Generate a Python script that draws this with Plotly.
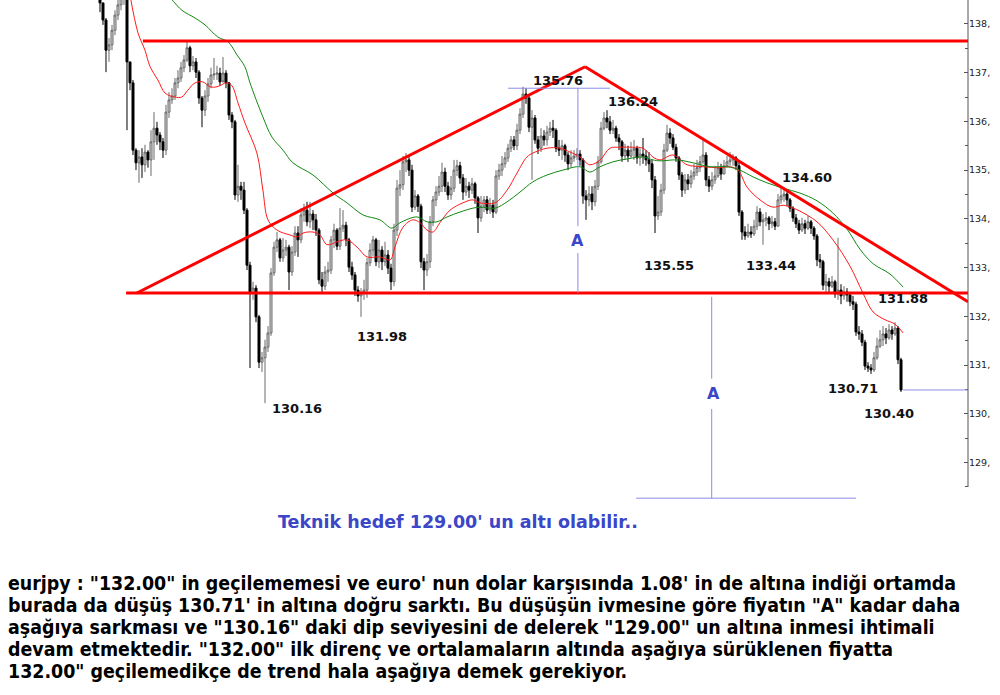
import plotly.graph_objects as go

# ---------------- data (EUR/JPY candles) ----------------
first_open = 138.80
closes = [
    138.43, 138.08, 137.46, 137.57, 137.87, 138.18, 138.39, 138.59, 138.69, 137.22,
    136.79, 135.41, 135.15, 135.27, 135.11, 135.37, 135.21, 135.58, 135.86, 135.72,
    135.58, 135.41, 136.19, 136.44, 136.52, 136.79, 136.89, 137.10, 137.26, 137.51,
    137.14, 137.22, 137.01, 136.48, 136.23, 136.52, 136.77, 136.95, 136.97, 136.99,
    136.81, 136.99, 136.79, 136.13, 135.99, 134.49, 134.67, 134.59, 134.18, 133.05,
    132.48, 132.58, 131.99, 131.06, 131.15, 131.37, 131.66, 132.89, 133.42, 133.57,
    133.20, 133.36, 133.42, 132.91, 133.32, 133.71, 133.57, 134.08, 134.18, 133.94,
    134.10, 133.98, 133.77, 132.75, 132.62, 132.91, 132.95, 133.57, 133.77, 133.44,
    133.81, 133.87, 133.57, 133.01, 132.85, 132.54, 132.42, 132.48, 132.54, 133.10,
    133.36, 133.57, 133.12, 133.36, 133.12, 133.26, 132.99, 132.71, 133.77, 134.63,
    134.70, 135.17, 135.21, 135.00, 134.24, 134.47, 134.26, 133.12, 132.95, 133.12,
    133.94, 134.39, 134.55, 134.67, 134.96, 134.67, 134.49, 134.63, 135.00, 135.09,
    134.84, 134.55, 134.67, 134.59, 134.72, 134.43, 134.02, 134.26, 134.39, 134.18,
    134.28, 134.14, 134.88, 135.00, 135.13, 135.25, 135.45, 135.62, 135.50, 135.82,
    136.15, 136.56, 136.48, 135.88, 136.07, 135.62, 135.45, 135.70, 135.62, 135.78,
    135.86, 135.82, 135.45, 135.41, 135.50, 135.31, 135.13, 135.25, 135.29, 135.33,
    135.21, 134.47, 134.39, 134.51, 134.35, 134.67, 135.17, 135.86, 136.07, 135.99,
    135.82, 135.86, 135.66, 135.58, 135.29, 135.41, 135.29, 135.41, 135.45, 135.25,
    135.33, 135.29, 135.21, 135.13, 134.80, 134.06, 134.14, 134.59, 135.41, 135.76,
    135.66, 135.47, 135.25, 134.90, 134.59, 134.80, 134.72, 134.88, 134.96, 135.05,
    135.17, 135.31, 134.80, 134.67, 134.80, 134.88, 135.05, 134.92, 135.09, 135.17,
    135.21, 135.25, 135.09, 134.14, 133.73, 133.65, 133.73, 133.69, 133.85, 134.14,
    133.94, 133.98, 134.02, 133.90, 133.94, 133.85, 134.39, 134.47, 134.51, 134.39,
    134.22, 134.02, 133.90, 133.77, 133.90, 133.81, 133.94, 133.81, 133.65, 133.16,
    133.12, 132.64, 132.71, 132.62, 132.71, 132.46, 132.54, 132.42, 132.50, 132.44,
    132.30, 132.25, 131.68, 131.64, 131.47, 130.98, 130.94, 130.90, 131.15, 131.39,
    131.52, 131.64, 131.56, 131.72, 131.64, 131.76, 131.11, 130.49,
]
highs = [
    138.69, 138.43, 138.12, 137.71, 137.98, 138.28, 138.59, 138.90, 139.00, 138.80,
    137.22, 136.85, 135.45, 135.41, 135.45, 135.52, 135.41, 135.82, 136.19, 135.99,
    135.78, 135.66, 136.34, 136.60, 136.68, 136.89, 137.05, 137.22, 137.36, 137.67,
    137.55, 137.34, 137.30, 137.05, 136.52, 136.64, 136.89, 137.10, 137.30, 137.14,
    137.10, 137.32, 137.05, 136.81, 136.19, 136.03, 135.11, 134.76, 134.76, 134.22,
    133.12, 132.71, 132.64, 132.03, 131.27, 131.52, 131.80, 132.99, 133.53, 133.73,
    133.61, 133.61, 133.57, 133.47, 133.44, 133.85, 133.85, 134.22, 134.31, 134.35,
    134.35, 134.18, 134.10, 133.81, 132.91, 133.03, 133.12, 133.65, 133.90, 133.81,
    134.22, 134.18, 133.94, 133.61, 133.12, 132.91, 132.62, 132.58, 132.75, 133.20,
    133.50, 133.65, 133.61, 133.57, 133.44, 133.53, 133.36, 133.08, 133.90, 134.80,
    135.00, 135.29, 135.35, 135.29, 135.11, 134.59, 134.51, 134.31, 133.20, 133.28,
    134.06, 134.47, 134.67, 134.88, 135.15, 135.05, 134.76, 134.88, 135.21, 135.21,
    135.17, 134.92, 134.84, 134.76, 134.84, 134.76, 134.47, 134.47, 134.47, 134.47,
    134.43, 134.39, 135.00, 135.13, 135.29, 135.37, 135.54, 135.70, 135.70, 135.95,
    136.27, 136.71, 136.68, 136.52, 136.23, 136.13, 135.70, 135.86, 135.82, 135.91,
    135.99, 136.03, 135.86, 135.62, 135.62, 135.54, 135.37, 135.41, 135.41, 135.45,
    135.41, 135.25, 134.59, 134.67, 134.67, 134.80, 135.29, 135.99, 136.19, 136.23,
    136.11, 136.03, 135.91, 135.74, 135.62, 135.54, 135.50, 135.58, 135.62, 135.50,
    135.45, 135.66, 135.41, 135.37, 135.21, 134.88, 134.47, 134.72, 135.54, 135.93,
    135.86, 135.74, 135.54, 135.29, 134.96, 134.92, 134.92, 135.00, 135.13, 135.21,
    135.29, 135.66, 135.37, 134.88, 134.96, 135.09, 135.17, 135.13, 135.21, 135.29,
    135.37, 135.33, 135.29, 135.17, 134.18, 133.85, 133.90, 133.85, 133.98, 134.26,
    134.22, 134.10, 134.14, 134.06, 134.06, 134.02, 134.51, 134.63, 134.65, 134.59,
    134.43, 134.26, 134.10, 133.98, 134.02, 133.98, 134.06, 133.98, 133.85, 133.69,
    133.28, 133.16, 132.87, 132.79, 132.83, 132.75, 133.61, 132.66, 132.62, 132.58,
    132.50, 132.42, 132.30, 131.80, 131.72, 131.52, 131.06, 131.02, 131.27, 131.56,
    131.72, 131.80, 131.76, 131.84, 131.80, 131.88, 131.80, 131.15,
]
lows = [
    138.24, 137.98, 137.01, 137.22, 137.46, 137.77, 138.08, 138.28, 138.39, 135.82,
    136.64, 135.31, 135.00, 134.74, 134.84, 134.96, 135.05, 134.88, 135.21, 135.52,
    135.41, 135.25, 135.31, 136.07, 136.36, 136.44, 136.68, 136.81, 137.01, 137.22,
    137.01, 137.05, 136.89, 136.36, 135.88, 136.11, 136.40, 136.68, 136.85, 136.85,
    136.73, 136.85, 136.68, 136.03, 135.86, 134.39, 134.35, 134.39, 134.10, 132.95,
    130.94, 132.34, 131.88, 130.94, 130.86, 130.22, 131.27, 131.60, 132.83, 133.32,
    133.12, 133.12, 133.24, 132.54, 132.83, 133.24, 133.22, 133.50, 133.94, 133.85,
    133.81, 133.77, 133.65, 132.66, 132.50, 132.54, 132.71, 132.87, 133.40, 133.36,
    133.36, 133.73, 133.44, 132.91, 132.75, 132.42, 132.30, 131.99, 132.34, 132.38,
    133.03, 133.24, 133.03, 132.99, 132.95, 133.03, 132.87, 132.54, 132.62, 133.65,
    134.47, 134.59, 134.96, 134.88, 134.14, 134.18, 134.14, 132.99, 132.54, 132.83,
    132.99, 133.85, 134.26, 134.47, 134.55, 134.55, 134.39, 134.39, 134.55, 134.88,
    134.72, 134.39, 134.47, 134.43, 134.51, 134.31, 133.71, 133.94, 134.14, 134.10,
    134.10, 134.02, 134.10, 134.80, 134.88, 135.05, 135.17, 135.37, 135.41, 135.41,
    135.74, 136.07, 136.36, 135.78, 134.80, 135.54, 135.33, 135.37, 135.50, 135.50,
    135.70, 135.66, 135.37, 135.29, 135.21, 135.17, 135.00, 135.05, 135.17, 135.21,
    135.09, 134.31, 133.98, 134.26, 134.18, 134.26, 134.59, 135.13, 135.82, 135.86,
    135.74, 135.74, 135.58, 135.41, 135.17, 135.21, 135.17, 135.25, 135.21, 135.13,
    135.09, 135.13, 135.09, 134.96, 134.63, 133.71, 133.98, 134.06, 134.51, 135.37,
    135.54, 135.41, 135.17, 134.80, 134.45, 134.51, 134.59, 134.63, 134.80, 134.88,
    134.96, 135.13, 134.67, 134.55, 134.59, 134.72, 134.84, 134.80, 134.92, 135.05,
    135.09, 135.09, 135.00, 134.06, 133.57, 133.57, 133.61, 133.61, 133.65, 133.77,
    133.85, 133.47, 133.85, 133.77, 133.81, 133.77, 133.85, 134.31, 134.35, 134.26,
    134.14, 133.94, 133.81, 133.69, 133.73, 133.69, 133.77, 133.69, 133.57, 133.03,
    132.99, 132.54, 132.50, 132.46, 132.58, 132.38, 132.34, 132.25, 132.34, 132.30,
    132.21, 132.13, 131.60, 131.52, 131.39, 130.90, 130.86, 130.82, 130.86, 131.11,
    131.35, 131.39, 131.43, 131.52, 131.52, 131.60, 131.02, 130.45,
]
opens = [first_open] + closes[:-1]
bar_index = list(range(len(closes)))

# moving averages (red = fast, green = slow), read at sample bars
ma_fast_x = [10.0, 12.7, 15.0, 16.7, 19.3, 21.7, 25.0, 27.3, 29.3, 31.7, 34.3, 36.7, 39.0,
             42.3, 44.0, 46.0, 48.3, 52.3, 54.3, 56.0, 59.0, 63.3, 65.7, 67.7, 71.0, 73.3,
             75.7, 79.0, 82.3, 85.7, 89.0, 93.3, 96.7, 98.3, 101.0, 104.3, 106.7, 109.0,
             111.0, 113.3, 116.7, 121.0, 124.3, 126.7, 131.7, 135.7, 139.0, 142.3, 144.3,
             149.0, 153.3, 156.7, 160.0, 163.3, 166.7, 170.0, 173.3, 177.7, 181.0, 184.3,
             186.7, 191.0, 195.7, 201.0, 206.7, 210.0, 212.7, 215.7, 220.0, 224.3, 227.7,
             231.0, 233.3, 239.0, 244.3, 250.0, 254.3, 257.7, 261.7, 265.0, 267.7]
ma_fast_y = [138.59, 137.81, 137.46, 137.12, 136.85, 136.58, 136.50, 136.50, 136.64, 136.79,
             136.81, 136.71, 136.71, 136.79, 136.73, 136.38, 135.97, 135.35, 134.59, 133.98,
             133.77, 133.67, 133.63, 133.71, 133.73, 133.67, 133.47, 133.53, 133.57, 133.42,
             133.22, 133.22, 133.16, 133.42, 133.83, 133.98, 133.92, 133.77, 133.73, 133.92,
             134.18, 134.33, 134.39, 134.33, 134.33, 134.59, 134.94, 135.27, 135.35, 135.45,
             135.45, 135.37, 135.27, 135.11, 135.21, 135.45, 135.47, 135.47, 135.45, 135.27,
             135.21, 135.31, 135.11, 135.07, 135.05, 135.07, 135.00, 134.65, 134.39, 134.24,
             134.28, 134.22, 134.16, 133.94, 133.57, 133.03, 132.48, 132.09, 131.93, 131.84,
             131.66]
ma_slow_x = [23.3, 27.3, 31.7, 35.0, 39.3, 42.7, 45.7, 48.3, 50.0, 54.3, 57.3, 61.0, 64.3,
             71.0, 77.7, 82.3, 87.7, 93.3, 97.3, 100.0, 105.7, 109.0, 112.3, 115.7, 120.0,
             124.3, 126.7, 131.7, 135.7, 140.0, 144.3, 149.0, 154.3, 160.0, 163.3, 166.7,
             171.0, 175.7, 181.0, 184.3, 186.7, 192.3, 197.7, 203.3, 209.0, 213.3, 217.7,
             222.3, 227.7, 233.3, 239.0, 244.3, 249.0, 253.3, 257.7, 263.3, 267.7]
ma_slow_y = [138.55, 138.28, 138.12, 137.98, 137.73, 137.63, 137.36, 137.12, 136.79, 136.09,
             135.68, 135.41, 135.15, 134.90, 134.53, 134.33, 134.08, 133.98, 133.81, 133.92,
             134.04, 133.94, 133.94, 134.04, 134.14, 134.22, 134.24, 134.22, 134.35, 134.55,
             134.76, 134.90, 135.00, 135.07, 134.96, 135.07, 135.17, 135.23, 135.27, 135.21,
             135.19, 135.21, 135.15, 135.07, 135.07, 135.00, 134.86, 134.74, 134.63, 134.53,
             134.37, 134.12, 133.79, 133.38, 133.08, 132.87, 132.60]

# analysis lines (bar index, price)
top_resistance = [(14.3, 137.65), (289.33, 137.65)]
neckline = [(8.7, 132.48), (289.33, 132.48)]
rising_side = [(12.3, 132.48), (161.7, 137.12)]
falling_side = [(161.7, 137.12), (289.33, 132.30)]
measure_lines = [
    [(136.0, 136.68), (170.0, 136.68)],
    [(159.3, 136.68), (159.3, 133.85)],
    [(159.3, 133.30), (159.3, 132.48)],
    [(203.9, 132.40), (203.9, 130.72)],
    [(203.9, 130.10), (203.9, 128.27)],
    [(178.7, 128.27), (252.0, 128.27)],
    [(267.7, 130.49), (289.33, 130.49)],
]

y_ticks = [129, 130, 131, 132, 133, 134, 135, 136, 137, 138]
y_tick_text = [f"{v}," for v in y_ticks]

price_labels = ["135.76", "136.24", "131.98", "130.16", "135.55",
                "133.44", "134.60", "131.88", "130.71", "130.40"]

paragraph = [
    'eurjpy : "132.00" in geçilememesi ve euro\' nun dolar karşısında 1.08\' in de altına indiği ortamda',
    'burada da düşüş 130.71\' in altına doğru sarktı. Bu düşüşün ivmesine göre fiyatın "A" kadar daha',
    'aşağıya sarkması ve "130.16" daki dip seviyesini de delerek "129.00" un altına inmesi ihtimali',
    'devam etmektedir. "132.00" ilk direnç ve ortalamaların altında aşağıya sürüklenen fiyatta',
    '132.00" geçilemedikçe de trend hala aşağıya demek gerekiyor.',
]
target_text = "Teknik hedef 129.00' un altı olabilir.."

# ---------------- layout geometry (pixels) ----------------
W, H = 1000, 695
PLOT_W, PLOT_H = 968, 500
X_RANGE = [-33.33, 289.33]
Y_RANGE = [128.233, 138.49]


def px(xp):
    return xp / PLOT_W


def py(yp):
    return 1 - yp / PLOT_H


label_pos = [(558, 80), (633, 102), (382, 336), (297, 408), (669, 265),
             (771, 265), (807, 177), (903, 298), (853, 388), (889, 413)]
a_pos = [(577, 240), (713, 393)]
para_y = [583, 605, 627, 649, 671]

fig = go.Figure()
fig.add_trace(go.Candlestick(
    x=bar_index, open=opens, high=highs, low=lows, close=closes,
    increasing=dict(line=dict(color='#6a6a6a', width=1), fillcolor='#d4d4d4'),
    decreasing=dict(line=dict(color='#000000', width=1), fillcolor='#000000'),
    whiskerwidth=0, showlegend=False, hoverinfo='skip'))
fig.add_trace(go.Scatter(x=ma_fast_x, y=ma_fast_y, mode='lines',
                         line=dict(color='#ff1a1a', width=1, shape='spline'),
                         showlegend=False, hoverinfo='skip'))
fig.add_trace(go.Scatter(x=ma_slow_x, y=ma_slow_y, mode='lines',
                         line=dict(color='#118811', width=1, shape='spline'),
                         showlegend=False, hoverinfo='skip'))

shapes = []
for seg in (top_resistance, neckline, rising_side, falling_side):
    (x0, y0), (x1, y1) = seg
    shapes.append(dict(type='line', xref='x', yref='y', x0=x0, y0=y0, x1=x1, y1=y1,
                       line=dict(color='#ff0000', width=3)))
for seg in measure_lines:
    (x0, y0), (x1, y1) = seg
    shapes.append(dict(type='line', xref='x', yref='y', x0=x0, y0=y0, x1=x1, y1=y1,
                       line=dict(color='#8c8ce8', width=1)))
# right price axis line
shapes.append(dict(type='line', xref='paper', yref='y', x0=1, x1=1, y0=128.5, y1=Y_RANGE[1],
                   line=dict(color='#555555', width=1)))

annotations = []
for txt, (xp, yp) in zip(price_labels, label_pos):
    annotations.append(dict(xref='paper', yref='paper', x=px(xp), y=py(yp), text=f"<b>{txt}</b>",
                            showarrow=False, xanchor='center', yanchor='middle',
                            font=dict(family='DejaVu Sans', size=13, color='#111111')))
for xp, yp in a_pos:
    annotations.append(dict(xref='paper', yref='paper', x=px(xp), y=py(yp), text="<b>A</b>",
                            showarrow=False, xanchor='center', yanchor='middle',
                            font=dict(family='DejaVu Sans', size=16, color='#3c46c8')))
annotations.append(dict(xref='paper', yref='paper', x=px(458), y=py(522), text=f"<b>{target_text}</b>",
                        showarrow=False, xanchor='center', yanchor='middle',
                        font=dict(family='DejaVu Sans', size=17.5, color='#3c46c8')))
for line, yp in zip(paragraph, para_y):
    annotations.append(dict(xref='paper', yref='paper', x=px(6), y=py(yp), text=f"<b>{line}</b>",
                            showarrow=False, xanchor='left', yanchor='middle',
                            font=dict(family='DejaVu Sans Condensed, DejaVu Sans', size=19.4, color='#000000')))

fig.update_layout(
    width=W, height=H,
    margin=dict(l=0, r=W - PLOT_W, t=0, b=H - PLOT_H, pad=0),
    paper_bgcolor='white', plot_bgcolor='white',
    boxgap=0.05,
    showlegend=False,
    shapes=shapes, annotations=annotations,
    xaxis=dict(range=X_RANGE, visible=False, rangeslider=dict(visible=False), fixedrange=True),
    yaxis=dict(range=Y_RANGE, side='right', showgrid=False, zeroline=False, showline=False,
               tickvals=y_ticks, ticktext=y_tick_text, ticks='inside', ticklen=4,
               tickcolor='#555555', tickfont=dict(family='DejaVu Sans', size=9.5, color='#222222'),
               minor=dict(ticks='inside', ticklen=3, tickcolor='#555555', dtick=0.5, tick0=128.5),
               fixedrange=True),
)

fig.write_html("out.html", config={'displayModeBar': False},
               post_script="document.body.style.margin='0px';document.body.style.overflow='hidden';")
